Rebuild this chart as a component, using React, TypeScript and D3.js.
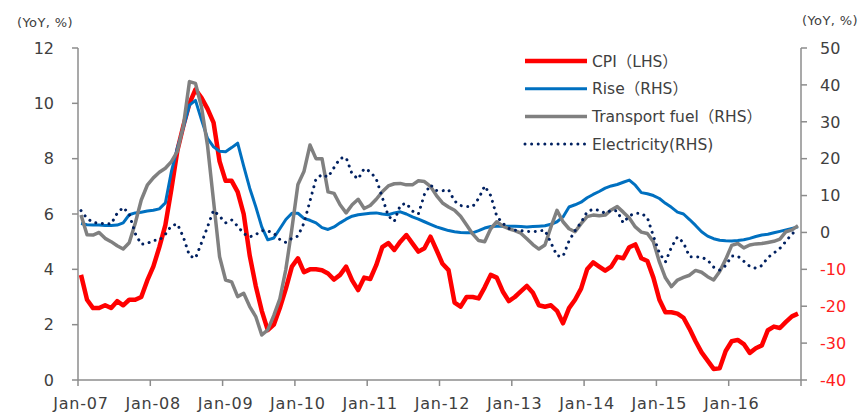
import React from 'react';
import * as d3 from 'd3';

const months: string[] = d3
  .timeMonths(new Date(2007, 0, 1), new Date(2017, 0, 1))
  .map((d) => d3.timeFormat('%b-%y')(d));
const yearLabels = ['Jan-07', 'Jan-08', 'Jan-09', 'Jan-10', 'Jan-11', 'Jan-12', 'Jan-13', 'Jan-14', 'Jan-15', 'Jan-16'];
const leftTicks = [0, 2, 4, 6, 8, 10, 12];
const rightTicks = [50, 40, 30, 20, 10, 0, -10, -20, -30, -40];

const cpi = [
  3.8, 2.9, 2.6, 2.6, 2.7, 2.6, 2.85, 2.7, 2.9, 2.9, 3.0, 3.6,
  4.1, 4.8, 5.6, 6.9, 8.3, 9.2, 10.0, 10.5, 10.2, 9.8, 9.3, 7.9,
  7.2, 7.2, 6.8, 6.0, 4.5, 3.4, 2.5, 1.8, 2.0, 2.6, 3.3, 4.1,
  4.4, 3.9, 4.0, 4.0, 3.97, 3.85, 3.63, 3.8, 4.1, 3.6, 3.25, 3.7,
  3.65, 4.15, 4.8, 4.95, 4.7, 5.0, 5.24, 4.94, 4.64, 4.76, 5.18, 4.7,
  4.2, 3.97, 2.8, 2.65, 3.0, 3.0, 2.95, 3.35, 3.8, 3.7, 3.2, 2.85,
  3.0, 3.2, 3.4, 3.15, 2.7, 2.65, 2.7, 2.5, 2.05, 2.6, 2.9, 3.3,
  4.0, 4.25, 4.1, 3.95, 4.1, 4.45, 4.4, 4.8, 4.9, 4.4, 4.3, 3.7,
  2.9, 2.45, 2.45, 2.4, 2.25, 1.85, 1.4, 1.0, 0.7, 0.4, 0.42, 1.05,
  1.4, 1.45, 1.3, 0.98, 1.15, 1.25, 1.8, 1.93, 1.88, 2.1, 2.3, 2.4,
];

const rise = [
  2.4, 2.1, 2.0, 2.0, 1.9, 1.9, 2.0, 2.6, 4.8, 5.3, 5.5, 5.8,
  6.0, 6.4, 8.0, 16.5, 23, 28.5, 34.5, 35.8, 30.5, 25.5, 23.2, 22.0,
  21.9, 23.0, 24.2, 18, 12, 7, 1.5, -2, -1.5, 1, 3.5, 5.2,
  5.2, 3.8, 3.3, 2.6, 1.3, 0.8, 1.5, 2.6, 3.6, 4.4, 4.8, 5.0,
  5.2, 5.3, 5.0, 4.8, 5.3, 5.6, 5.0, 4.2, 3.6, 2.9, 2.2, 1.5,
  1.0, 0.5, 0.2, 0, -0.1, -0.1, 0.5, 1.2, 1.6, 1.7, 1.7, 1.7,
  1.7, 1.6, 1.5, 1.6, 1.7, 1.8, 2.2, 2.9, 4.2, 6.9, 7.5, 8.2,
  9.4, 10.3, 11.1, 12.0, 12.6, 13.0, 13.6, 14.2, 12.8, 10.8, 10.5, 10.0,
  9.2, 7.9, 6.8, 5.5, 5.0, 3.5, 1.9, 0.2, -1.0, -1.7, -2.1, -2.25,
  -2.3, -2.2, -2.0, -1.6, -1.1, -0.7, -0.5, -0.1, 0.3, 0.7, 1.1, 1.5,
];

const transportFuel = [
  4.7, -0.6, -0.7, 0.0, -1.6, -2.5, -3.6, -4.5, -2.8, 2.5, 8.8, 12.8,
  14.8, 16.3, 17.4, 19.2, 22.0, 29.0, 40.9, 40.4, 34.0, 23.5, 8.5, -6.6,
  -12.9, -13.4, -17.4, -16.5, -20.1, -22.8, -27.8, -26.4, -22.5, -18, -10, 1,
  13, 16.5, 23.7, 20, 20, 11, 10.6, 7.5, 5.3, 7.5, 9.0, 6.5,
  7.3, 9.0, 11.0, 12.6, 13.2, 13.3, 12.9, 12.9, 14.0, 13.8, 12.5, 10.0,
  8.0, 6.9, 6.0, 4.4, 2.0, -0.4, -2.2, -2.5, 1.0, 2.9, 1.7, 1.0,
  0.5, -0.2, -1.7, -3.3, -4.5, -3.4, 1.5, 6.0, 2.9, 1.0, 0.2, 2.4,
  4.3, 4.7, 4.5, 4.7, 6.1, 7.0, 5.5, 3.9, 1.5, 0.1, -0.3, -2.5,
  -8, -12.3, -14.7, -12.9, -12.2, -11.6, -10.3, -10.8, -12.0, -12.9, -10.6, -7.3,
  -3.5, -3.0, -4.2, -3.4, -3.1, -3.0, -2.7, -2.4, -1.8, 0.2, 0.7, 1.8,
];

const electricity = [
  5.9, 3.8, 2.7, 2.5, 2.4, 2.3, 5.2, 6.8, 5.0, -0.3, -3.2, -3.0,
  -2.1, -2.1, -0.5, 1.8, 2.3, -1.3, -6.3, -7.0, -2.8, 1.5, 6.0, 4.4,
  2.6, 3.4, 1.7, -0.3, -1.2, -0.6, 0.5, 0.4, -0.2, -1.9, -2.7, -1.6,
  -1.0, 2.5, 8.5, 14.5, 15.7, 15.0, 17.6, 20.1, 20.3, 15.8, 14.5, 17.3,
  16.5, 14.5, 9.5, 4.5, 3.0, 7.4, 7.9, 5.8, 5.0, 10.3, 12.9, 11.4,
  11.3, 11.6, 8.5, 7.3, 7.0, 7.0, 9.2, 12.6, 10.0, 4.4, 2.5, 1.1,
  0.6, 0.5, 0.3, 0.2, 0.4, 0.6, -2.8, -6.3, -6.5, -2.3, 0.5, 2.7,
  5.6, 6.3, 6.0, 5.2, 6.0, 5.8, 2.6, 4.5, 5.2, 5.2, 4.0, -1.0,
  -5.6, -8.0, -4.0, -1.2, -2.8, -6.6, -6.6, -6.7, -7.5, -9.4, -10.2, -9.0,
  -6.4, -6.4, -7.8, -9.2, -9.7, -9.0, -6.8, -5.6, -4.3, -2.4, -0.4, 0.8,
];

const legendItems = [
  { label: 'CPI（LHS）', color: '#FF0000', width: 4.5, dash: '' },
  { label: 'Rise（RHS）', color: '#0070C0', width: 3, dash: '' },
  { label: 'Transport fuel（RHS）', color: '#808080', width: 3.5, dash: '' },
  { label: 'Electricity(RHS)', color: '#002060', width: 3, dash: '0.01 6.6' },
];

const W = 864;
const H = 415;
const L = 78;
const R = 801;
const T = 48;
const B = 380;
const FONT = '"DejaVu Sans", "Noto Sans CJK JP", sans-serif';
const TXT = '#404040';
const AXIS = '#8C8C8C';

export default function App() {
  const x = d3.scaleBand<string>().domain(months).range([L, R]).padding(0);
  const bw = x.bandwidth();
  const cx = (i: number) => (x(months[i]) as number) + bw / 2;
  const yL = d3.scaleLinear().domain([0, 12]).range([B, T]);
  const yR = d3.scaleLinear().domain([-40, 50]).range([B, T]);

  const lineL = d3.line<number>().x((_, i) => cx(i)).y((d) => yL(d));
  const lineR = d3.line<number>().x((_, i) => cx(i)).y((d) => yR(d));

  const yearTickX = yearLabels.map((lab) => x(lab) as number);

  return (
    <svg width={W} height={H} style={{ position: 'absolute', left: 0, top: 0, background: '#fff' }} fontFamily={FONT}>
      <rect x={0} y={0} width={W} height={H} fill="#fff" />
      {/* series */}
      <path d={lineL(cpi) || ''} fill="none" stroke="#FF0000" strokeWidth={4.5} strokeLinejoin="round" />
      <path d={lineR(rise) || ''} fill="none" stroke="#0070C0" strokeWidth={3} strokeLinejoin="round" />
      <path d={lineR(transportFuel) || ''} fill="none" stroke="#808080" strokeWidth={3.5} strokeLinejoin="round" />
      <path d={lineR(electricity) || ''} fill="none" stroke="#002060" strokeWidth={3} strokeLinecap="round" strokeDasharray="0.01 6.6" />

      {/* axes */}
      <line x1={L} x2={L} y1={T} y2={B} stroke={AXIS} strokeWidth={1.5} />
      <line x1={R} x2={R} y1={T} y2={B} stroke={AXIS} strokeWidth={1.5} />
      <line x1={L} x2={R} y1={B} y2={B} stroke={AXIS} strokeWidth={1.5} />
      {leftTicks.map((t) => (
        <g key={'l' + t}>
          <line x1={L - 6} x2={L} y1={yL(t)} y2={yL(t)} stroke={AXIS} strokeWidth={1.5} />
          <text x={54} y={yL(t)} dy="0.36em" textAnchor="end" fontSize={16} fill={TXT}>{t}</text>
        </g>
      ))}
      {rightTicks.map((t) => (
        <g key={'r' + t}>
          <line x1={R} x2={R + 6} y1={yR(t)} y2={yR(t)} stroke={AXIS} strokeWidth={1.5} />
          <text x={820} y={yR(t)} dy="0.36em" textAnchor="start" fontSize={16} fill={t < 0 ? '#FF2020' : TXT}>{t}</text>
        </g>
      ))}
      {yearTickX.concat([R]).map((tx, k) => (
        <line key={'xt' + k} x1={tx} x2={tx} y1={B} y2={B + 6} stroke={AXIS} strokeWidth={1.5} />
      ))}
      {yearLabels.map((lab, k) => (
        <text key={lab} x={yearTickX[k] + 3} y={409} textAnchor="middle" fontSize={16} letterSpacing={0.8} fill={TXT}>{lab}</text>
      ))}
      <text x={17} y={27} fontSize={13} fill={TXT} letterSpacing={0.4}>(YoY, %)</text>
      <text x={802} y={25} fontSize={13} fill={TXT} letterSpacing={0.4}>(YoY, %)</text>

      {/* legend */}
      {legendItems.map((it, k) => {
        const ly = 61 + k * 27.7;
        return (
          <g key={it.label}>
            <line x1={525} x2={587} y1={ly} y2={ly} stroke={it.color} strokeWidth={it.width}
              strokeDasharray={it.dash || undefined} strokeLinecap={it.dash ? 'round' : 'butt'} />
            <text x={592} y={ly} dy="0.36em" fontSize={15.5} fill={TXT}>{it.label}</text>
          </g>
        );
      })}
    </svg>
  );
}
